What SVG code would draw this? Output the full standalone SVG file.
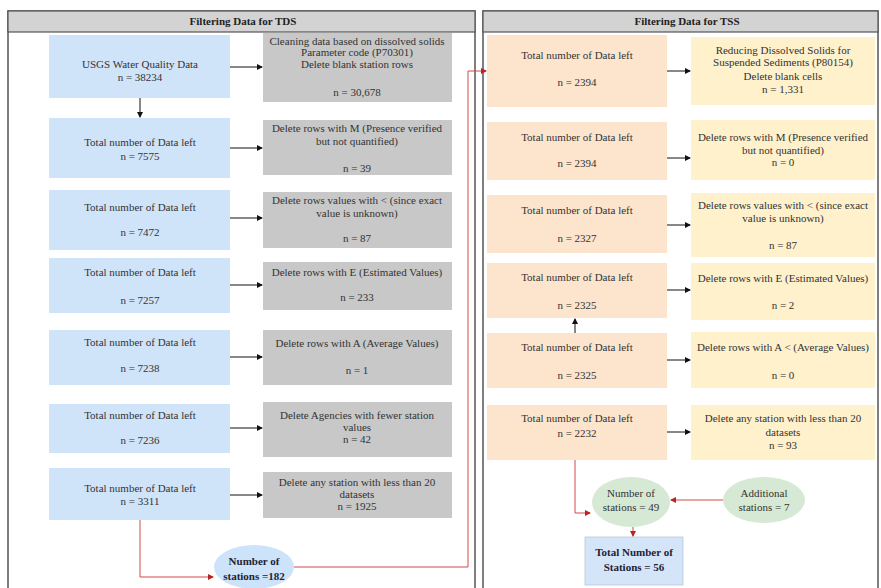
<svg xmlns="http://www.w3.org/2000/svg" width="881" height="588" viewBox="0 0 881 588">
<defs>
<marker id="ah" markerWidth="6" markerHeight="6" refX="5" refY="3" orient="auto" markerUnits="userSpaceOnUse"><path d="M0,0 L6,3 L0,6 Z" fill="#111"/></marker>
<marker id="ahr" markerWidth="6" markerHeight="6" refX="5" refY="3" orient="auto" markerUnits="userSpaceOnUse"><path d="M0,0 L6,3 L0,6 Z" fill="#b22"/></marker>
</defs>
<style>
text{font-family:"Liberation Serif","Times New Roman",serif;font-size:11px;fill:#333;text-anchor:middle}
.hd{font-weight:bold;font-size:11px;fill:#222}
.b{font-weight:bold;fill:#223}
.blue{fill:#cfe3f9}
.gray{fill:#c8c8c8}
.org{fill:#fde4cd}
.yel{fill:#fff1cc}
.grn{fill:#d6e9d4}
.panel{fill:#fff;stroke:#555;stroke-width:1.5}
.hdr{fill:#d3d3d3;stroke:#555;stroke-width:1.2}
.a{stroke:#111;stroke-width:1;fill:none;marker-end:url(#ah)}
.r{stroke:#d04a4a;stroke-width:1;fill:none;marker-end:url(#ahr)}
</style>
<rect width="881" height="588" fill="#fff"/>
<g id="panel-tds">
<rect class="panel" x="8" y="11" width="467" height="590"/>
<rect class="hdr" x="8" y="11" width="467" height="21"/>
<text class="hd" x="243" y="25">Filtering Data for TDS</text>
</g>
<g id="panel-tss">
<rect class="panel" x="483" y="11" width="395" height="590"/>
<rect class="hdr" x="483" y="11" width="395" height="21"/>
<text class="hd" x="687" y="25">Filtering Data for TSS</text>
</g>
<g id="b1"><rect class="blue" x="49" y="35" width="181" height="63"/><text x="140" y="68">USGS Water Quality Data</text><text x="140" y="81">n = 38234</text></g>
<g id="b2"><rect class="blue" x="49" y="118" width="181" height="60"/><text x="140" y="146">Total number of Data left</text><text x="140" y="160">n = 7575</text></g>
<g id="b3"><rect class="blue" x="49" y="190" width="181" height="60"/><text x="140" y="211">Total number of Data left</text><text x="140" y="236">n = 7472</text></g>
<g id="b4"><rect class="blue" x="49" y="258" width="181" height="55"/><text x="140" y="276">Total number of Data left</text><text x="140" y="304">n = 7257</text></g>
<g id="b5"><rect class="blue" x="49" y="330" width="181" height="55"/><text x="140" y="346">Total number of Data left</text><text x="140" y="372">n = 7238</text></g>
<g id="b6"><rect class="blue" x="49" y="404" width="181" height="49"/><text x="140" y="419">Total number of Data left</text><text x="140" y="444">n = 7236</text></g>
<g id="b7"><rect class="blue" x="49" y="468" width="181" height="52"/><text x="140" y="492">Total number of Data left</text><text x="140" y="505">n = 3311</text></g>
<g id="g1"><rect class="gray" x="263" y="33" width="189" height="69"/><text x="357" y="45">Cleaning data based on dissolved solids</text><text x="357" y="56">Parameter code (P70301)</text><text x="357" y="68">Delete blank station rows</text><text x="357" y="96">n = 30,678</text></g>
<g id="g2"><rect class="gray" x="263" y="120" width="189" height="55"/><text x="357" y="132">Delete rows with M (Presence verified</text><text x="357" y="145">but not quantified)</text><text x="357" y="172">n = 39</text></g>
<g id="g3"><rect class="gray" x="263" y="192" width="189" height="56"/><text x="357" y="204">Delete rows values with &lt; (since exact</text><text x="357" y="217">value is unknown)</text><text x="357" y="242">n = 87</text></g>
<g id="g4"><rect class="gray" x="263" y="262" width="189" height="48"/><text x="357" y="276">Delete rows with E (Estimated Values)</text><text x="357" y="301">n = 233</text></g>
<g id="g5"><rect class="gray" x="263" y="330" width="189" height="55"/><text x="357" y="347">Delete rows with A (Average Values)</text><text x="357" y="374">n = 1</text></g>
<g id="g6"><rect class="gray" x="263" y="402" width="189" height="55"/><text x="357" y="419">Delete Agencies with fewer station</text><text x="357" y="431">values</text><text x="357" y="443">n = 42</text></g>
<g id="g7"><rect class="gray" x="263" y="472" width="189" height="46"/><text x="357" y="486">Delete any station with less than 20</text><text x="357" y="498">datasets</text><text x="357" y="510">n = 1925</text></g>
<g id="e182"><ellipse cx="254" cy="567" rx="40" ry="22" fill="#cce3fa"/><text class="b" x="254" y="565">Number of</text><text class="b" x="254" y="580">stations =182</text></g>
<g id="o1"><rect class="org" x="487" y="35" width="180" height="72"/><text x="577" y="59">Total number of Data left</text><text x="577" y="86">n = 2394</text></g>
<g id="o2"><rect class="org" x="487" y="122" width="180" height="58"/><text x="577" y="141">Total number of Data left</text><text x="577" y="167">n = 2394</text></g>
<g id="o3"><rect class="org" x="487" y="195" width="180" height="58"/><text x="577" y="214">Total number of Data left</text><text x="577" y="242">n = 2327</text></g>
<g id="o4"><rect class="org" x="487" y="263" width="180" height="55"/><text x="577" y="281">Total number of Data left</text><text x="577" y="309">n = 2325</text></g>
<g id="o5"><rect class="org" x="487" y="333" width="180" height="55"/><text x="577" y="351">Total number of Data left</text><text x="577" y="379">n = 2325</text></g>
<g id="o6"><rect class="org" x="487" y="405" width="180" height="55"/><text x="577" y="422">Total number of Data left</text><text x="577" y="437">n = 2232</text></g>
<g id="y1"><rect class="yel" x="691" y="37" width="184" height="68"/><text x="783" y="54">Reducing Dissolved Solids for</text><text x="783" y="66">Suspended Sediments (P80154)</text><text x="783" y="80">Delete blank cells</text><text x="783" y="93">n = 1,331</text></g>
<g id="y2"><rect class="yel" x="691" y="120" width="184" height="60"/><text x="783" y="141">Delete rows with M (Presence verified</text><text x="783" y="154">but not quantified)</text><text x="783" y="166">n = 0</text></g>
<g id="y3"><rect class="yel" x="691" y="193" width="184" height="64"/><text x="783" y="209">Delete rows values with &lt; (since exact</text><text x="783" y="222">value is unknown)</text><text x="783" y="249">n = 87</text></g>
<g id="y4"><rect class="yel" x="691" y="263" width="184" height="57"/><text x="783" y="282">Delete rows with E  (Estimated Values)</text><text x="783" y="309">n = 2</text></g>
<g id="y5"><rect class="yel" x="691" y="332" width="184" height="56"/><text x="783" y="351">Delete rows with A &lt; (Average Values)</text><text x="783" y="379">n = 0</text></g>
<g id="y6"><rect class="yel" x="691" y="405" width="184" height="55"/><text x="783" y="422">Delete any station with less than 20</text><text x="783" y="436">datasets</text><text x="783" y="449">n = 93</text></g>
<g id="e49"><ellipse cx="631" cy="502" rx="39" ry="25" class="grn"/><text x="631" y="497">Number of</text><text x="631" y="511">stations = 49</text></g>
<g id="e7"><ellipse cx="764" cy="500" rx="41" ry="23" class="grn"/><text x="764" y="497">Additional</text><text x="764" y="511">stations = 7</text></g>
<g id="total"><rect x="585" y="537" width="98" height="48" fill="#d4e5f9" stroke="#b9c9dc" stroke-width="0.8"/><text class="b" x="634" y="556">Total Number of</text><text class="b" x="634" y="571">Stations = 56</text></g>
<g id="connectors">
<path class="a" d="M140,98 V117"/>
<path class="a" d="M230,67 H262"/>
<path class="a" d="M230,148 H262"/>
<path class="a" d="M230,218 H262"/>
<path class="a" d="M230,285 H262"/>
<path class="a" d="M230,357 H262"/>
<path class="a" d="M230,428 H262"/>
<path class="a" d="M230,495 H262"/>
<path class="r" d="M140,520 V577 H213"/>
<path class="r" d="M294,567 H468 V71 H486"/>
<path class="a" d="M667,71 H690"/>
<path class="a" d="M667,158 H690"/>
<path class="a" d="M667,225 H690"/>
<path class="a" d="M667,290 H690"/>
<path class="a" d="M667,360 H690"/>
<path class="a" d="M667,432 H690"/>
<path class="a" d="M575,333 V319"/>
<path class="r" d="M575,460 V513 H590"/>
<path class="r" d="M723,500 H671"/>
<path class="r" d="M633,527 V536"/>
</g>
</svg>
